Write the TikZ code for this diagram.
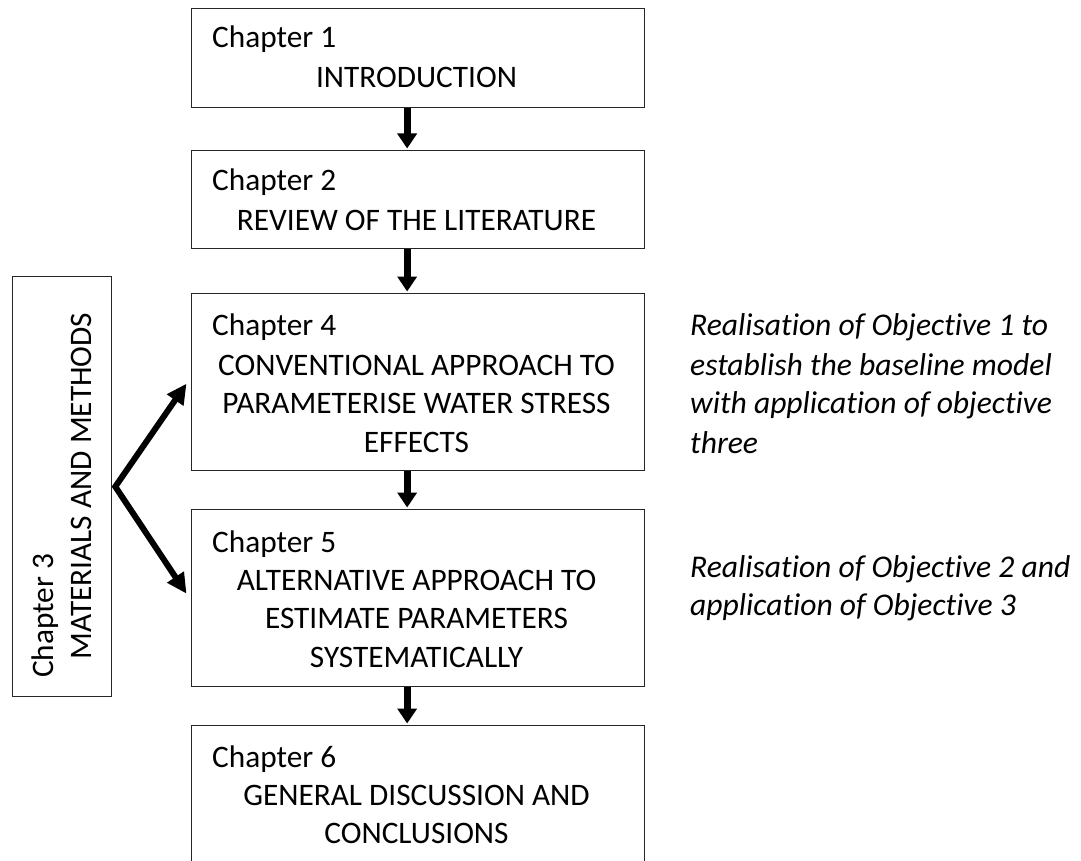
\documentclass[tikz,border=0pt]{standalone}
\usepackage{fontspec}
\setmainfont{Carlito}[Ligatures=NoCommon]
\usetikzlibrary{arrows.meta}
\begin{document}
\begin{tikzpicture}[x=1pt,y=-1pt,
  chapbox/.style={draw=black!85,line width=1.3pt,minimum width=453pt,anchor=north west,inner sep=0pt},
  txt/.style={inner sep=0pt,font=\fontsize{31.3}{39}\selectfont},
  head/.style={txt,anchor=base west},
  body/.style={txt,anchor=base},
  note/.style={inner sep=0pt,anchor=base west,font=\fontsize{31.6}{39}\selectfont\itshape},
  flow/.style={line width=7pt,shorten >=1.5pt,-{Triangle[width=19pt,length=15pt]}},
  branch/.style={line width=6pt,line join=miter,{Triangle[width=19pt,length=20pt]}-{Triangle[width=19pt,length=20pt]}}]

\useasboundingbox (0,0) rectangle (1081,861);
\clip (0,0) rectangle (1081,861);

% chapter boxes
\node[chapbox,minimum height=99pt]  (c1) at (190.5,8)   {};
\node[chapbox,minimum height=98pt]  (c2) at (190.5,150) {};
\node[chapbox,minimum height=177pt] (c4) at (190.5,293) {};
\node[chapbox,minimum height=177pt] (c5) at (190.5,509) {};
\node[chapbox,minimum height=180pt] (c6) at (190.5,725) {};
\node[chapbox,minimum width=99pt,minimum height=420pt] (m) at (12,276) {};

% box texts
\node[head] (h1) at (212,48)  {Chapter 1};
\node[body] (t1) at (416.5,88) {INTRODUCTION};

\node[head] (h2) at (212,190) {Chapter 2};
\node[body] (t2) at (416.5,230) {REVIEW OF THE LITERATURE};

\node[head] (h4)  at (212,335)   {Chapter 4};
\node[body] (t4a) at (416.5,375) {CONVENTIONAL APPROACH TO};
\node[body] (t4b) at (416.5,413) {PARAMETERISE WATER STRESS};
\node[body] (t4c) at (416.5,452) {EFFECTS};

\node[head] (h5)  at (212,552)   {Chapter 5};
\node[body] (t5a) at (416.5,590) {ALTERNATIVE APPROACH TO};
\node[body] (t5b) at (416.5,628) {ESTIMATE PARAMETERS};
\node[body] (t5c) at (416.5,667) {SYSTEMATICALLY};

\node[head] (h6)  at (212,767)   {Chapter 6};
\node[body] (t6a) at (416.5,805) {GENERAL DISCUSSION AND};
\node[body] (t6b) at (416.5,843) {CONCLUSIONS};

% rotated side box
\node[head,rotate=90] (h3) at (53,678) {Chapter 3};
\node[body,rotate=90] (t3) at (91,486) {MATERIALS AND METHODS};

% objectives
\node[note] (o1a) at (690,335) {Realisation of Objective 1 to};
\node[note] (o1b) at (690,375) {establish the baseline model};
\node[note] (o1c) at (690,413) {with application of objective};
\node[note] (o1d) at (690,453) {three};
\node[note] (o2a) at (690,577) {Realisation of Objective 2 and};
\node[note] (o2b) at (690,615) {application of Objective 3};

% flow arrows
\draw[flow] ([xshift=-10.5pt]c1.south) -- ([xshift=-10.5pt]c2.north);
\draw[flow] ([xshift=-10.5pt]c2.south) -- ([xshift=-10.5pt]c4.north);
\draw[flow] ([xshift=-10.5pt]c4.south) -- ([xshift=-10.5pt]c5.north);
\draw[flow] ([xshift=-10.5pt]c5.south) -- ([xshift=-10.5pt]c6.north);

% branching arrows from the side box
\draw[branch] ([shift={(-4,1.5)}]c4.west) -- ([xshift=3pt]m.east) -- ([shift={(-4,-4.5)}]c5.west);
\end{tikzpicture}
\end{document}
